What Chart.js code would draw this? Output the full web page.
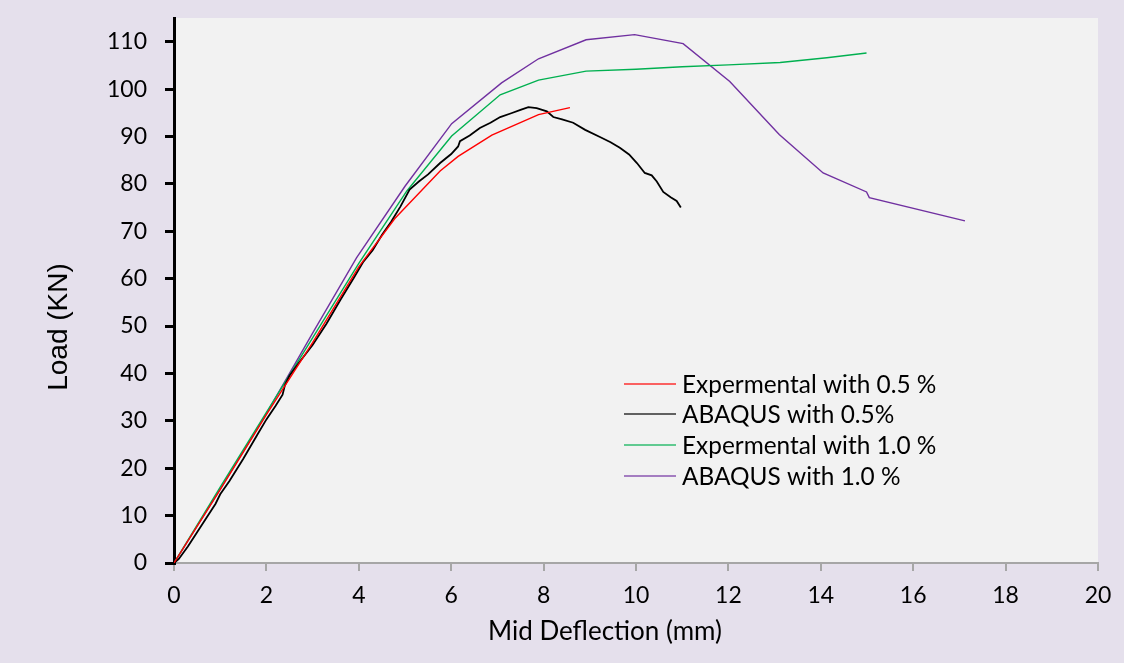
<!DOCTYPE html>
<html>
<head>
<meta charset="utf-8">
<script src="https://cdn.jsdelivr.net/npm/chart.js@4.4.1/dist/chart.umd.min.js"></script>
<style>
html,body{margin:0;padding:0;background:#E5E0EC;}
#wrap{width:1124px;height:663px;position:relative;}
</style>
</head>
<body>
<div id="wrap"><canvas id="c" width="1124" height="663"></canvas></div>
<script>
// ---- data ----
const xTicks = [0, 2, 4, 6, 8, 10, 12, 14, 16, 18, 20];
const yTicks = [0, 10, 20, 30, 40, 50, 60, 70, 80, 90, 100, 110];

const seriesNames = ["Expermental with 0.5 %", "ABAQUS with 0.5%", "Expermental with 1.0 %", "ABAQUS with 1.0 %"];

const expHalfX = [0, 1, 2, 3, 4, 4.78, 5.76, 6.15, 6.88, 7.89, 8.57];
const expHalfY = [0, 15.5, 31.3, 46.5, 62.5, 72.7, 82.7, 85.8, 90.3, 94.6, 96.1];

const abqHalfX = [0, 0.1, 0.3, 0.5, 0.7, 0.9, 1.0, 1.2, 1.5, 1.8, 2.0, 2.2, 2.35, 2.4, 2.5, 2.7, 3.0, 3.3, 3.6, 3.9, 4.1, 4.3, 4.5, 4.7, 4.9, 5.1, 5.3, 5.5, 5.76, 6.0, 6.15, 6.19, 6.4, 6.62, 6.85, 7.06, 7.3, 7.5, 7.67, 7.85, 8.07, 8.21, 8.4, 8.64, 8.9, 9.22, 9.45, 9.65, 9.85, 10.02, 10.19, 10.34, 10.45, 10.59, 10.75, 10.88, 10.97];
const abqHalfY = [0, 0.8, 3.5, 6.5, 9.5, 12.5, 14.5, 17.3, 22, 27, 30.3, 33.2, 35.5, 37.5, 39.5, 42.2, 46, 50.5, 55.5, 60.3, 63.6, 66, 69.2, 72, 75.2, 78.8, 80.5, 82, 84.4, 86.3, 87.9, 89.0, 90.2, 91.8, 92.9, 94.1, 94.9, 95.6, 96.2, 96.0, 95.3, 94.1, 93.6, 92.9, 91.4, 89.9, 88.8, 87.6, 86.2, 84.4, 82.3, 81.8, 80.5, 78.3, 77.2, 76.4, 75.0];

const expOneX = [0, 1, 2, 3, 4, 5.04, 6.01, 7.06, 7.89, 8.92, 10, 11, 12, 13.12, 14.13, 14.99];
const expOneY = [0, 16, 31.8, 47.5, 63.2, 78.5, 90.1, 98.8, 101.9, 103.8, 104.2, 104.7, 105.1, 105.6, 106.6, 107.6];

const abqOneX = [0, 1, 2, 3, 3.95, 5.0, 6.01, 7.09, 7.89, 8.92, 9.97, 11.02, 12.03, 13.1, 14.05, 14.99, 15.05, 17.12];
const abqOneY = [0, 15.6, 31.5, 48.5, 64.4, 79.5, 92.7, 101.3, 106.4, 110.4, 111.5, 109.6, 101.6, 90.4, 82.3, 78.3, 77.1, 72.2];

const seriesColors = ["#FF0000", "#000000", "#00B050", "#7030A0"];

function pts(xs, ys) { return xs.map((x, i) => ({ x: x, y: ys[i] })); }

const datasets = [
  { xs: expHalfX, ys: expHalfY },
  { xs: abqHalfX, ys: abqHalfY },
  { xs: expOneX, ys: expOneY },
  { xs: abqOneX, ys: abqOneY }
].map((s, i) => ({
  label: seriesNames[i],
  data: pts(s.xs, s.ys),
  borderColor: seriesColors[i],
  backgroundColor: seriesColors[i],
  borderWidth: i === 1 ? 1.8 : 1.4,
  showLine: true,
  pointRadius: 0,
  tension: 0,
  fill: false
}));

const bgPlugin = {
  id: 'bg',
  beforeDraw(chart) {
    const { ctx, chartArea: a } = chart;
    ctx.save();
    ctx.fillStyle = '#E5E0EC';
    ctx.fillRect(0, 0, chart.width, chart.height);
    ctx.fillStyle = '#F2F2F2';
    ctx.fillRect(a.left, a.top, a.right - a.left, a.bottom - a.top);
    ctx.restore();
  }
};

const annPlugin = {
  id: 'ann',
  afterDraw(chart) {
    const ctx = chart.ctx;
    ctx.save();
    // axis titles
    ctx.fillStyle = '#000';
    ctx.font = '26px Lato';
    ctx.textAlign = 'center';
    ctx.textBaseline = 'middle';
    ctx.fillText('Mid Deflection (mm)', 605, 632);
    ctx.save();
    ctx.translate(59, 327);
    ctx.rotate(-Math.PI / 2);
    ctx.font = '28px "Liberation Sans"';
    ctx.fillText('Load (KN)', 0, 0);
    ctx.restore();
    // legend
    const rows = [384, 414, 445, 476];
    chart.data.datasets.forEach((d, i) => {
      ctx.strokeStyle = d.borderColor;
      ctx.globalAlpha = 0.8;
      ctx.lineWidth = 1.5;
      ctx.beginPath();
      ctx.moveTo(624, rows[i]);
      ctx.lineTo(676, rows[i]);
      ctx.stroke();
      ctx.globalAlpha = 1;
      ctx.fillStyle = '#000';
      ctx.font = '24.4px Lato';
      ctx.textAlign = 'left';
      ctx.textBaseline = 'middle';
      ctx.fillText(d.label, 682, rows[i] + 1);
    });
    ctx.restore();
  }
};

new Chart(document.getElementById('c'), {
  type: 'scatter',
  data: { datasets: datasets },
  options: {
    responsive: false,
    animation: false,
    layout: { padding: { top: 18, right: 26, left: 0, bottom: 0 } },
    plugins: { legend: { display: false }, tooltip: { enabled: false } },
    scales: {
      x: {
        type: 'linear', min: 0, max: 20,
        afterBuildTicks(s) { s.ticks = xTicks.map(v => ({ value: v })); },
        afterFit(s) { s.height = 100; s.paddingLeft = 0; s.paddingRight = 0; },
        ticks: { color: '#000', font: { family: 'Lato', size: 23 }, padding: 11, maxRotation: 0 },
        grid: { drawOnChartArea: false, drawTicks: true, tickLength: 8, color: '#A6A6A6', lineWidth: 2 },
        border: { display: true, color: '#A6A6A6', width: 2 }
      },
      y: {
        type: 'linear', min: 0, max: 115,
        afterBuildTicks(s) { s.ticks = yTicks.map(v => ({ value: v })); },
        afterFit(s) { s.width = 174; s.paddingTop = 0; s.paddingBottom = 0; },
        ticks: { color: '#000', font: { family: 'Lato', size: 23 }, padding: 18 },
        grid: { drawOnChartArea: false, drawTicks: true, tickLength: 9, color: '#000', lineWidth: 3 },
        border: { display: true, color: '#000', width: 3 }
      }
    }
  },
  plugins: [bgPlugin, annPlugin]
});
</script>
</body>
</html>
